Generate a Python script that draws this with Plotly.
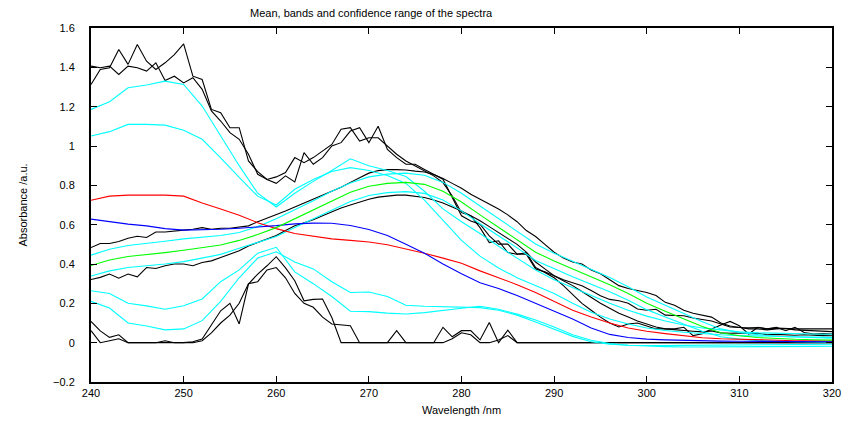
import plotly.graph_objects as go

# wavelength grids
x_fine = list(range(240, 321))        # 1 nm (range lines)
x_coarse = list(range(240, 321, 2))   # 2 nm (means and bands)

# ---- means ----
red_mean = [0.724, 0.745, 0.75, 0.75, 0.75, 0.745, 0.71, 0.68, 0.648, 0.61, 0.58, 0.555, 0.54, 0.528, 0.52,
            0.512, 0.498, 0.478, 0.455, 0.43, 0.404, 0.365, 0.33, 0.295, 0.255, 0.21, 0.165, 0.13, 0.1, 0.075,
            0.058, 0.046, 0.034, 0.025, 0.02, 0.017, 0.014, 0.012, 0.01, 0.009, 0.008]
blue_mean = [0.628, 0.615, 0.603, 0.594, 0.58, 0.572, 0.574, 0.577, 0.582, 0.588, 0.595, 0.604, 0.608, 0.607,
             0.596, 0.575, 0.545, 0.5, 0.455, 0.4, 0.35, 0.305, 0.275, 0.24, 0.2, 0.16, 0.12, 0.075, 0.042,
             0.026, 0.018, 0.014, 0.011, 0.009, 0.008, 0.007, 0.007, 0.006, 0.006, 0.005, 0.005]
green_mean = [0.392, 0.42, 0.438, 0.447, 0.458, 0.47, 0.482, 0.497, 0.52, 0.55, 0.585, 0.63, 0.675, 0.722, 0.765,
              0.795, 0.81, 0.815, 0.805, 0.77, 0.715, 0.65, 0.588, 0.525, 0.46, 0.415, 0.375, 0.335, 0.295, 0.25,
              0.2, 0.16, 0.12, 0.082, 0.05, 0.035, 0.026, 0.02, 0.017, 0.015, 0.013]

# ---- bands (cyan) ----
red_band_hi = [1.186, 1.225, 1.296, 1.31, 1.33, 1.313, 1.203, 1.05, 0.9, 0.76, 0.69, 0.76, 0.82, 0.875, 0.935,
               0.9, 0.875, 0.845, 0.77, 0.68, 0.615, 0.555, 0.49, 0.43, 0.37, 0.32, 0.28, 0.24, 0.2, 0.165,
               0.135, 0.11, 0.09, 0.075, 0.065, 0.055, 0.05, 0.047, 0.045, 0.044, 0.043]
red_band_lo = [0.264, 0.25, 0.2, 0.187, 0.17, 0.188, 0.222, 0.31, 0.37, 0.455, 0.485, 0.36, 0.3, 0.235, 0.16,
               0.158, 0.15, 0.146, 0.153, 0.165, 0.175, 0.185, 0.17, 0.145, 0.115, 0.08, 0.04, 0.012, -0.005,
               -0.013, -0.018, -0.02, -0.022, -0.022, -0.022, -0.021, -0.021, -0.02, -0.02, -0.019, -0.018]
blue_band_hi = [1.051, 1.073, 1.11, 1.11, 1.106, 1.08, 1.034, 0.94, 0.84, 0.745, 0.7, 0.78, 0.83, 0.87, 0.89,
                0.875, 0.85, 0.81, 0.725, 0.62, 0.52, 0.44, 0.38, 0.33, 0.29, 0.25, 0.2, 0.155, 0.12, 0.095,
                0.075, 0.062, 0.053, 0.046, 0.04, 0.036, 0.033, 0.031, 0.03, 0.028, 0.027]
blue_band_lo = [0.21, 0.176, 0.1, 0.085, 0.065, 0.07, 0.112, 0.21, 0.33, 0.43, 0.462, 0.41, 0.375, 0.31, 0.255,
                0.258, 0.235, 0.19, 0.185, 0.182, 0.178, 0.178, 0.165, 0.14, 0.105, 0.07, 0.032, 0.005, -0.008,
                -0.013, -0.015, -0.015, -0.014, -0.013, -0.012, -0.012, -0.011, -0.01, -0.01, -0.009, -0.008]
green_band_hi = [0.445, 0.475, 0.494, 0.504, 0.516, 0.528, 0.535, 0.545, 0.56, 0.59, 0.63, 0.675, 0.722, 0.77,
                 0.812, 0.843, 0.857, 0.862, 0.851, 0.815, 0.76, 0.695, 0.632, 0.568, 0.502, 0.455, 0.415, 0.373,
                 0.331, 0.284, 0.232, 0.19, 0.147, 0.106, 0.07, 0.052, 0.041, 0.033, 0.029, 0.026, 0.023]
green_band_lo = [0.339, 0.365, 0.382, 0.39, 0.4, 0.412, 0.429, 0.449, 0.48, 0.51, 0.54, 0.585, 0.628, 0.674,
                 0.718, 0.748, 0.763, 0.768, 0.759, 0.725, 0.67, 0.605, 0.545, 0.482, 0.418, 0.375, 0.335, 0.297,
                 0.259, 0.216, 0.168, 0.13, 0.093, 0.058, 0.03, 0.018, 0.011, 0.007, 0.005, 0.004, 0.003]

# ---- confidence ranges (black, 1 nm) ----
range_hi_a = [1.313, 1.389, 1.398, 1.491, 1.415, 1.516, 1.431, 1.389, 1.423, 1.465, 1.519, 1.355, 1.338, 1.186,
              1.169, 1.093, 1.093, 0.924, 0.87, 0.83, 0.81, 0.848, 0.817, 0.966, 0.907, 0.941, 1.0, 1.017, 1.076,
              1.093, 1.017, 1.10, 0.983, 0.941, 0.907, 0.907, 0.881, 0.856, 0.831, 0.738, 0.645, 0.619, 0.602,
              0.543, 0.501, 0.501, 0.45, 0.458, 0.382, 0.357, 0.33, 0.29, 0.245, 0.2, 0.165, 0.13, 0.1, 0.08,
              0.095, 0.1, 0.085, 0.07, 0.07, 0.07, 0.078, 0.036, 0.045, 0.07, 0.09, 0.108, 0.086, 0.044, 0.078,
              0.07, 0.078, 0.061, 0.078, 0.052, 0.044, 0.046, 0.044]
range_hi_b = [1.406, 1.398, 1.406, 1.364, 1.406, 1.398, 1.381, 1.423, 1.333, 1.355, 1.321, 1.347, 1.288, 1.178,
              1.127, 1.068, 1.034, 0.958, 0.856, 0.83, 0.843, 0.865, 0.941, 0.915, 0.941, 0.975, 1.008, 1.085,
              1.093, 1.025, 1.042, 1.042, 1.0, 0.958, 0.924, 0.898, 0.873, 0.848, 0.814, 0.746, 0.661, 0.645,
              0.585, 0.509, 0.518, 0.458, 0.45, 0.45, 0.374, 0.36, 0.34, 0.32, 0.305, 0.289, 0.265, 0.239, 0.22,
              0.213, 0.2, 0.171, 0.165, 0.17, 0.14, 0.137, 0.137, 0.125, 0.118, 0.11, 0.095, 0.08, 0.078, 0.07,
              0.07, 0.065, 0.07, 0.072, 0.065, 0.062, 0.06, 0.058, 0.056]
range_lo_a = [0.108, 0.06, 0.027, 0.04, 0.0, 0.0, 0.0, 0.0, 0.01, 0.0, 0.0, 0.005, 0.019, 0.09, 0.162, 0.2, 0.095,
              0.298, 0.349, 0.391, 0.437, 0.38, 0.315, 0.213, 0.22, 0.222, 0.128, 0.0, 0.0, 0.0, 0.0, 0.0, 0.0,
              0.061, 0.0, 0.0, 0.0, 0.0, 0.078, 0.03, 0.061, 0.061, 0.014, 0.103, 0.0, 0.064, 0.0, 0.0, 0.0, 0.0,
              0.0, 0.0, 0.0, 0.0, 0.0, 0.0, 0.0, 0.0, 0.0, 0.0, 0.0, 0.0, 0.0, 0.0, 0.0, 0.0, 0.0, 0.0, 0.0, 0.0,
              0.0, 0.0, 0.0, 0.0, 0.0, 0.0, 0.0, 0.0, 0.0, 0.0, 0.0]
range_lo_b = [0.061, 0.0, 0.01, 0.02, 0.0, 0.0, 0.0, 0.0, 0.0, 0.0, 0.0, 0.0, 0.01, 0.05, 0.1, 0.14, 0.2, 0.3, 0.31,
              0.37, 0.382, 0.33, 0.25, 0.2, 0.18, 0.13, 0.095, 0.09, 0.086, 0.0, 0.0, 0.0, 0.0, 0.0, 0.0, 0.0,
              0.0, 0.0, 0.0, 0.02, 0.05, 0.04, 0.0, 0.0, 0.014, 0.036, 0.0, 0.0, 0.0, 0.0, 0.0, 0.0, 0.0, 0.0,
              0.0, 0.0, 0.0, 0.0, 0.0, 0.0, 0.0, 0.0, 0.0, 0.0, 0.0, 0.0, 0.0, 0.0, 0.0, 0.0, 0.0, 0.0, 0.0, 0.0,
              0.0, 0.0, 0.0, 0.0, 0.0, 0.0, 0.0]
green_range_hi = [0.484, 0.504, 0.504, 0.514, 0.531, 0.541, 0.535, 0.563, 0.563, 0.569, 0.572, 0.577, 0.585, 0.577,
                  0.582, 0.582, 0.589, 0.594, 0.615, 0.632, 0.65, 0.67, 0.69, 0.71, 0.727, 0.75, 0.77, 0.79, 0.815,
                  0.84, 0.862, 0.875, 0.88, 0.88, 0.878, 0.872, 0.868, 0.855, 0.835, 0.81, 0.785, 0.755, 0.73,
                  0.705, 0.68, 0.65, 0.615, 0.57, 0.54, 0.5, 0.46, 0.43, 0.41, 0.40, 0.37, 0.35, 0.32, 0.29, 0.275,
                  0.265, 0.255, 0.24, 0.205, 0.19, 0.165, 0.15, 0.14, 0.13, 0.1, 0.085, 0.077, 0.075, 0.077, 0.07,
                  0.074, 0.071, 0.07, 0.07, 0.07, 0.07, 0.07]
green_range_lo = [0.321, 0.332, 0.349, 0.328, 0.349, 0.335, 0.382, 0.377, 0.391, 0.4, 0.4, 0.391, 0.408, 0.416,
                  0.433, 0.45, 0.467, 0.492, 0.509, 0.526, 0.545, 0.57, 0.595, 0.61, 0.625, 0.645, 0.665, 0.685,
                  0.7, 0.715, 0.729, 0.74, 0.745, 0.75, 0.75, 0.745, 0.738, 0.725, 0.71, 0.69, 0.67, 0.645, 0.62,
                  0.59, 0.56, 0.53, 0.5, 0.46, 0.41, 0.375, 0.34, 0.315, 0.29, 0.26, 0.23, 0.2, 0.175, 0.15, 0.13,
                  0.11, 0.095, 0.08, 0.07, 0.065, 0.06, 0.058, 0.055, 0.06, 0.05, 0.048, 0.05, 0.045, 0.048, 0.04,
                  0.042, 0.04, 0.038, 0.04, 0.037, 0.036, 0.035]

BLACK, CYAN = "#000000", "#00FFFF"
LW = 1.1

fig = go.Figure()

def add(x, y, color):
    fig.add_trace(go.Scatter(x=x, y=y, mode="lines", line=dict(color=color, width=LW),
                             showlegend=False, hoverinfo="skip"))

for ys in (range_hi_a, range_hi_b, range_lo_a, range_lo_b, green_range_hi, green_range_lo):
    add(x_fine, ys, BLACK)
for ys in (red_band_hi, red_band_lo, blue_band_hi, blue_band_lo, green_band_hi, green_band_lo):
    add(x_coarse, ys, CYAN)
add(x_coarse, red_mean, "#FF0000")
add(x_coarse, blue_mean, "#0000FF")
add(x_coarse, green_mean, "#00FF00")

axis_common = dict(showline=True, linecolor="black", linewidth=2, mirror="allticks",
                   ticks="inside", ticklen=6, tickcolor="black", tickwidth=1,
                   showgrid=False, zeroline=False,
                   tickfont=dict(family="Liberation Sans, Arial, sans-serif", size=11, color="black"))

fig.update_layout(
    width=853, height=422,
    margin=dict(l=91, r=15, t=28, b=40),
    paper_bgcolor="white", plot_bgcolor="white",
    font=dict(family="Liberation Sans, Arial, sans-serif", size=11, color="black"),
    xaxis=dict(range=[240, 320], dtick=10, tick0=240, **axis_common),
    yaxis=dict(range=[-0.2, 1.6], dtick=0.2, tick0=-0.2, ticklabelstandoff=12, **axis_common),
    annotations=[
        dict(text="Mean, bands and confidence range of the spectra", xref="paper", yref="paper",
             x=0.379, y=1.042, xanchor="center", yanchor="middle", showarrow=False,
             font=dict(size=11)),
        dict(text="Wavelength /nm", xref="paper", yref="paper", x=0.5, y=-0.079,
             xanchor="center", yanchor="middle", showarrow=False, font=dict(size=11)),
        dict(text="Absorbance /a.u.", xref="paper", yref="paper", x=-0.0924, y=0.5,
             xanchor="center", yanchor="middle", textangle=-90, showarrow=False, font=dict(size=11)),
    ],
)

fig.write_html("out.html")
